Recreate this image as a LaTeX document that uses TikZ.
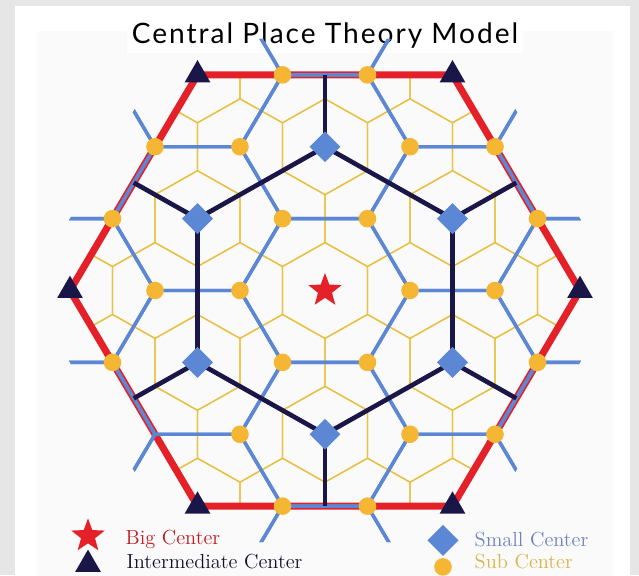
\documentclass[tikz,border=0pt]{standalone}
\usepackage{fontspec}
\usepackage{tikz}
\usetikzlibrary{shapes.geometric}
\newfontfamily\titlefont[LetterSpace=7]{Lato}
\definecolor{hexred}{RGB}{228,32,40}
\definecolor{navy}{RGB}{26,22,72}
\definecolor{roadblue}{RGB}{92,135,212}
\definecolor{subgold}{RGB}{245,182,52}
\definecolor{areayellow}{RGB}{234,192,66}
\definecolor{framegrey}{RGB}{230,230,230}
\definecolor{smalltext}{RGB}{110,130,190}
\definecolor{subtext}{RGB}{218,180,70}

\begin{document}
\begin{tikzpicture}[x=2.125cm,y=2.075cm,
		area/.style={areayellow,line width=0.9pt},
		road/.style={roadblue,line width=2.4pt},
		link/.style={navy,line width=3.3pt},
		big/.style={star,star points=5,star point ratio=2.4,fill=hexred,minimum size=0.88cm,inner sep=0pt},
		mid/.style={regular polygon,regular polygon sides=3,fill=navy,minimum size=0.74cm,inner sep=0pt},
		small/.style={diamond,fill=roadblue,minimum size=0.78cm,inner sep=0pt},
		sub/.style={circle,fill=subgold,minimum size=0.44cm,inner sep=0pt},
		key/.style={anchor=base west,inner sep=1pt,font=\fontsize{14.5}{17}\selectfont}]
		\useasboundingbox (-3.8235,-3.4277) rectangle (3.6941,3.5);
		\fill[framegrey] (-3.8235,-3.4277) rectangle (3.6941,3.5);
		\fill[white] (-3.647,-3.5) rectangle (3.588,3.428);
		\fill[black!2] (-3.388,-3.5) rectangle (3.388,3.127);
		\node[fill=white,font=\titlefont\fontsize{20}{23}\selectfont,anchor=base] (title) at (0,2.97) {Central Place Theory Model};

		\begin{scope}
			\clip (0:3) -- (60:3) -- (120:3) -- (180:3) -- (240:3) -- (300:3) -- cycle;
			\foreach \i in {-4,...,4}
				\foreach \j in {-4,...,4}
					\draw[area] ({\i+\j/2},{0.866*\j}) ++(-30:0.577) -- ++(90:0.577) -- ++(150:0.577) -- ++(210:0.577) -- ++(270:0.577) -- ++(330:0.577) -- cycle;
		\end{scope}
		\draw[hexred,line width=5pt] (0:3) -- (60:3) -- (120:3) -- (180:3) -- (240:3) -- (300:3) -- cycle;
		\begin{scope}
			\clip (0:3.5) -- (60:3.5) -- (120:3.5) -- (180:3.5) -- (240:3.5) -- (300:3.5) -- cycle;
			\foreach \a in {-3,...,3}
				\foreach \b in {-4,...,4}
					\draw[road] ({1.5*\a},{0.866*\a+1.732*\b}) ++(0:1) -- ++(120:1) -- ++(180:1) -- ++(240:1) -- ++(300:1) -- ++(0:1) -- cycle;
		\end{scope}

		\foreach \k/\ang in {1/30,2/90,3/150,4/210,5/270,6/330} {
			\coordinate (d\k) at (\ang:1.732);
			\coordinate (e\k) at (\ang:2.598);
			\draw[link] (d\k) -- (e\k);
		}
		\draw[link] (d1) -- (d2) -- (d3) -- (d4) -- (d5) -- (d6) -- cycle;

		\node[big] (big) at (0,0) {};
		\foreach \ang in {0,60,...,300}
			\node[mid] (mid\ang) at (\ang:3) {};
		\foreach \k in {1,...,6}
			\node[small] (small\k) at (d\k) {};
		\foreach \p [count=\n] in {(0:1),(60:1),(120:1),(180:1),(240:1),(300:1),(0:2),(60:2),(120:2),(180:2),(240:2),(300:2),(2.5,0.866),(2,1.732),(0.5,2.598),(-0.5,2.598),(-2,1.732),(-2.5,0.866),(-2.5,-0.866),(-0.5,-2.598),(0.5,-2.598),(2,-1.732),(2.5,-0.866)}
			\node[sub] (sub\n) at \p {};

		\node[big] (keybig) at (-2.788,-2.958) {};
		\node[key,text=hexred!85!black] (keybigtext) at (-2.365,-3.066) {Big Center};
		\node[mid] (keymid) at (-2.788,-3.3) {};
		\node[key,text=navy!70!black] (keymidtext) at (-2.353,-3.35) {Intermediate Center};
		\node[small] (keysmall) at (1.388,-3.01) {};
		\node[key,text=smalltext] (keysmalltext) at (1.741,-3.08) {Small Center};
		\node[sub] (keysub) at (1.388,-3.33) {};
		\node[key,text=subtext] (keysubtext) at (1.741,-3.35) {Sub Center};
\end{tikzpicture}
\end{document}
